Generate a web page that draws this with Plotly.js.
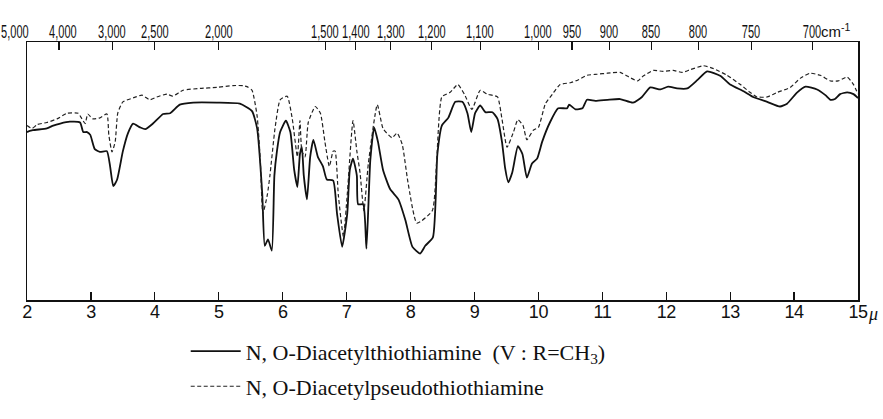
<!DOCTYPE html>
<html>
<head>
<meta charset="utf-8">
<script src="https://cdn.plot.ly/plotly-3.0.1.min.js"></script>
<style>
html,body{margin:0;padding:0;background:#fff;}
#chart{width:883px;height:419px;}
#chart .xtick text{letter-spacing:-0.5px;}
#chart g.annotation:not([data-index="17"]):not([data-index="18"]) text.annotation-text{
  transform-box: fill-box; transform-origin: center; transform: scaleX(0.58);
}
</style>
</head>
<body>
<div id="chart"></div>
<script>
// Wavelength (micron) and relative transmittance (arbitrary %, 0 = bottom of frame, 100 = top)
const solidWavelength = [2.00,2.09,2.31,2.41,2.52,2.67,2.83,2.88,2.94,2.99,3.06,3.14,3.25,3.30,3.35,3.41,3.50,3.58,3.66,3.77,3.85,3.97,4.13,4.24,4.39,4.60,4.97,5.33,5.52,5.60,5.68,5.72,5.77,5.83,5.87,5.91,5.96,6.05,6.12,6.18,6.23,6.27,6.30,6.33,6.38,6.43,6.48,6.55,6.63,6.69,6.79,6.85,6.93,7.01,7.05,7.10,7.16,7.18,7.26,7.31,7.37,7.43,7.49,7.57,7.68,7.81,7.92,8.03,8.15,8.23,8.35,8.42,8.49,8.59,8.70,8.81,8.89,8.95,9.01,9.09,9.17,9.28,9.36,9.43,9.48,9.53,9.59,9.68,9.75,9.82,9.90,9.98,10.06,10.18,10.31,10.45,10.48,10.58,10.69,10.76,10.89,11.08,11.28,11.48,11.62,11.75,11.91,12.03,12.17,12.33,12.49,12.64,12.85,13.00,13.21,13.36,13.58,13.78,13.89,14.05,14.18,14.36,14.49,14.57,14.64,14.72,14.83,14.93,15.00];
const solidTransmittance = [65.1,65.8,66.5,67.6,68.4,69.1,68.8,65.1,65.1,64.0,58.5,57.4,57.7,51.8,44.1,46.7,57.7,64.7,68.4,66.9,66.2,68.4,72.1,72.4,75.7,76.5,76.5,76.1,73.2,66.5,41.2,21.0,23.5,19.1,48.2,57.7,65.1,69.5,65.1,50.4,43.8,56.6,59.2,48.2,39.0,55.5,62.1,55.5,51.8,46.7,46.3,33.5,20.6,33.5,50.4,54.8,48.2,37.1,37.1,19.9,54.0,66.9,61.4,50.4,43.0,39.0,30.9,20.6,18.0,21.0,24.3,56.6,67.6,70.6,76.8,76.8,72.4,65.1,72.4,75.4,72.8,72.8,70.2,61.4,51.1,45.6,49.3,59.6,56.6,47.4,52.9,54.8,61.4,68.8,74.3,74.3,75.7,73.9,74.3,77.6,77.2,77.6,77.9,76.5,78.7,82.4,81.6,82.7,82.0,82.0,85.3,88.6,86.8,83.5,80.9,78.7,76.8,75.0,76.1,80.5,82.7,81.6,79.4,77.6,77.9,79.8,80.5,79.8,78.3];

const dashedWavelength = [2.00,2.08,2.16,2.31,2.47,2.63,2.80,2.86,2.91,2.95,3.03,3.14,3.25,3.28,3.33,3.38,3.42,3.50,3.66,3.80,3.92,4.03,4.19,4.28,4.44,4.71,4.97,5.22,5.38,5.44,5.52,5.60,5.65,5.69,5.76,5.80,5.88,5.96,6.07,6.15,6.23,6.27,6.30,6.35,6.40,6.51,6.59,6.66,6.73,6.79,6.82,6.87,6.95,7.01,7.10,7.16,7.21,7.27,7.34,7.48,7.57,7.71,7.79,7.87,7.96,8.10,8.34,8.41,8.49,8.62,8.74,8.85,8.96,9.09,9.20,9.36,9.43,9.51,9.61,9.68,9.76,9.82,9.92,10.00,10.11,10.22,10.34,10.50,10.62,10.76,10.92,11.08,11.28,11.39,11.55,11.64,11.80,11.95,12.11,12.25,12.38,12.58,12.74,12.95,13.16,13.31,13.42,13.58,13.74,13.94,14.10,14.25,14.41,14.57,14.69,14.83,14.93,15.00];
const dashedTransmittance = [67.6,66.5,68.0,68.8,70.2,72.4,72.4,70.2,68.4,72.1,70.2,70.6,72.1,64.0,57.4,61.4,72.4,76.8,78.3,79.4,77.6,78.7,79.8,79.0,81.3,82.0,82.4,83.1,83.1,82.7,81.3,71.3,54.0,33.5,40.8,48.2,66.5,77.6,79.0,70.2,55.5,69.5,57.7,55.5,68.8,75.0,72.4,61.4,51.8,57.7,57.7,40.8,24.6,40.8,69.5,57.7,49.3,34.6,52.9,75.7,66.5,62.9,64.7,60.3,45.6,29.8,34.6,54.8,78.7,80.5,83.5,79.4,73.9,81.3,79.8,78.7,70.2,59.2,65.1,69.9,67.6,62.1,65.8,66.9,76.1,79.8,83.5,84.2,85.3,87.1,87.5,87.9,88.2,86.8,84.9,86.8,89.0,88.6,89.0,88.2,89.3,90.8,89.7,87.1,83.5,80.5,78.7,78.7,80.5,82.4,86.0,87.9,87.1,84.9,84.9,86.4,83.5,79.8];

// Axis ticks
const micronTicks = [2,3,4,5,6,7,8,9,10,11,12,13,14,15];
const micronLabels = ['2','3','4','5','6','7','8','9','10','11','12','13','14','15'];
const wavenumberTicks = [5000,4000,3000,2500,2000,1500,1400,1300,1200,1100,1000,950,900,850,800,750,700];
const wavenumberLabels = ['5,000','4,000','3,000','2,500','2,000','1,500','1,400','1,300','1,200','1,100','1,000','950','900','850','800','750','700'];

const seriesNames = ['N, O-Diacetylthiothiamine  (V : R=CH<sub>3</sub>)', 'N, O-Diacetylpseudothiothiamine'];

const narrow = '"Liberation Sans Narrow", "Liberation Sans", "DejaVu Sans Condensed", sans-serif';
const serif = '"Liberation Serif", "DejaVu Serif", serif';

const topTickPos = wavenumberTicks.map(w => 10000 / w);
const topShift = wavenumberTicks.map(w => (w === 5000 ? -12 : (w === 4000 ? 4 : 0)));

const traces = [
  {x: solidWavelength, y: solidTransmittance, type: 'scatter', mode: 'lines', name: seriesNames[0],
   line: {color: '#111', width: 1.8, shape: 'spline', smoothing: 0.5}, legend: 'legend'},
  {x: dashedWavelength, y: dashedTransmittance, type: 'scatter', mode: 'lines', name: seriesNames[1],
   line: {color: '#222', width: 1.2, dash: '4px,2.5px', shape: 'spline', smoothing: 0.5}, legend: 'legend2'},
  {x: topTickPos, y: topTickPos.map(() => null), xaxis: 'x2', type: 'scatter', mode: 'lines', showlegend: false, hoverinfo: 'skip'}
];

const annotations = topTickPos.map((p, i) => ({
  text: wavenumberLabels[i], x: p, xref: 'x', y: 1, yref: 'paper', yanchor: 'middle', xanchor: 'center',
  xshift: topShift[i], yshift: 11, showarrow: false, font: {family: narrow, size: 19, color: '#111'}
}));
annotations.push(
  {text: 'cm<sup>-1</sup>', x: topTickPos[topTickPos.length - 1], xref: 'x', y: 1, yref: 'paper', yanchor: 'middle', xanchor: 'left', xshift: 7, yshift: 12, showarrow: false, font: {family: narrow, size: 15, color: '#111'}},
  {text: '<i>μ</i>', x: 15, xref: 'x', y: 0, yref: 'paper', yanchor: 'top', xanchor: 'left', xshift: 8, yshift: -2, showarrow: false, font: {family: serif, size: 18, color: '#111'}}
);

const layout = {
  width: 883, height: 419,
  margin: {l: 27, r: 25, t: 42, b: 105, pad: 0},
  paper_bgcolor: '#fff', plot_bgcolor: '#fff',
  showlegend: true,
  xaxis: {range: [2, 15], tickmode: 'array', tickvals: micronTicks, ticktext: micronLabels, ticks: 'inside', ticklen: 8, tickwidth: 1.2, tickcolor: '#111',
          showline: true, linecolor: '#111', linewidth: 1.5, showgrid: false, zeroline: false, tickangle: 0, ticklabelstandoff: -5,
          tickfont: {family: narrow, size: 18, color: '#111'}},
  xaxis2: {range: [2, 15], overlaying: 'x', side: 'top', tickmode: 'array', tickvals: topTickPos, showticklabels: false, ticks: 'inside', ticklen: 8, tickwidth: 1.2, tickcolor: '#111',
           showline: true, linecolor: '#111', linewidth: 1.5, showgrid: false, zeroline: false},
  yaxis: {range: [0, 100], showline: true, mirror: true, linecolor: '#111', linewidth: 1.5, showticklabels: false, ticks: '', showgrid: false, zeroline: false},
  legend: {x: 0.191, y: -0.199, xanchor: 'left', yanchor: 'middle', itemwidth: 50, font: {family: serif, size: 22, color: '#111'}, bgcolor: 'rgba(0,0,0,0)'},
  legend2: {x: 0.191, y: -0.335, xanchor: 'left', yanchor: 'middle', itemwidth: 50, font: {family: serif, size: 22, color: '#111'}, bgcolor: 'rgba(0,0,0,0)'},
  annotations: annotations
};

Plotly.newPlot('chart', traces, layout, {displayModeBar: false, staticPlot: true});
</script>
</body>
</html>
